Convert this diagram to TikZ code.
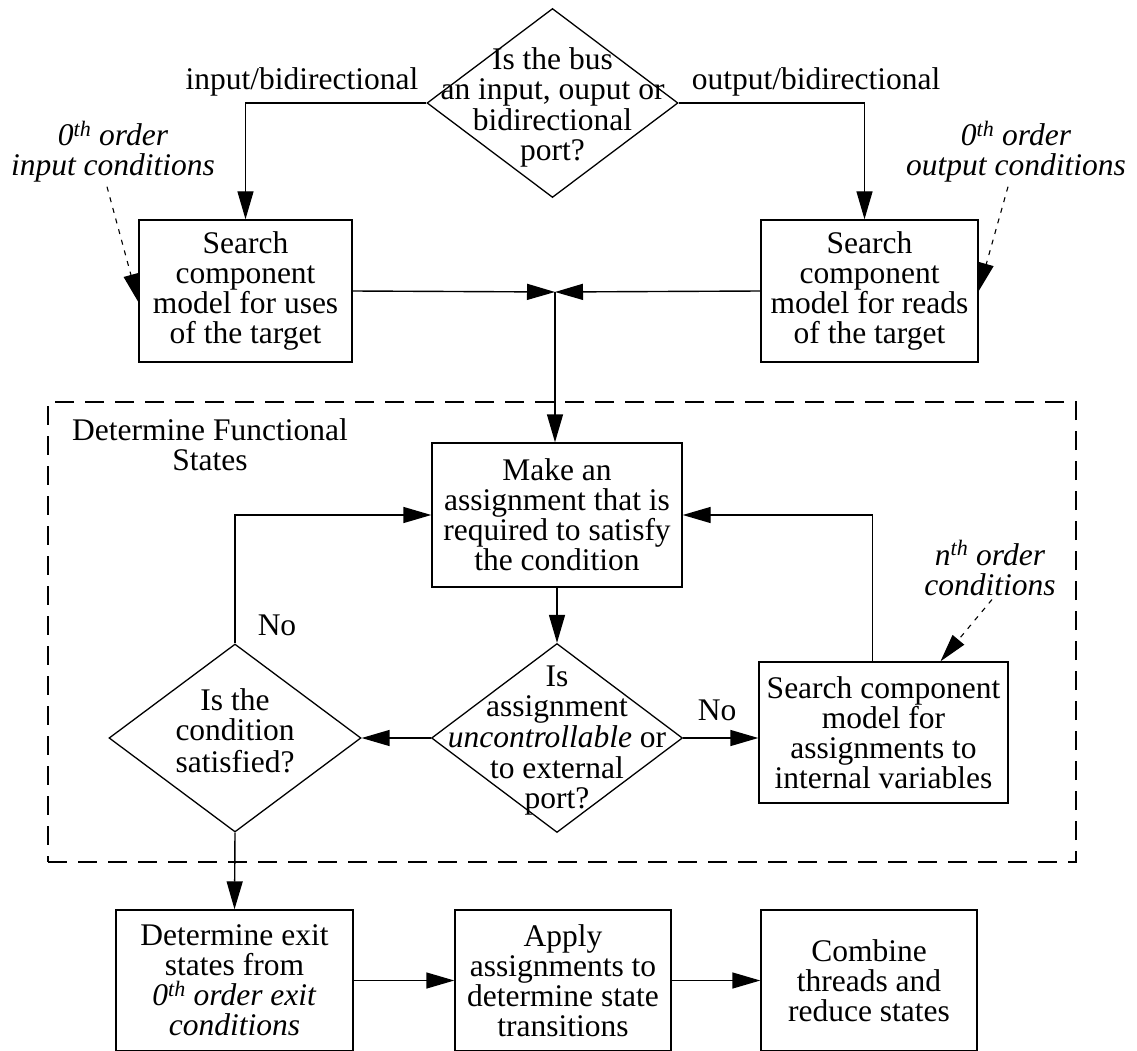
\documentclass[tikz,border=0pt]{standalone}
\usepackage{fontspec}
\setmainfont{Liberation Serif}
\usetikzlibrary{shapes.geometric,arrows.meta}
% text set inside a diamond without enlarging the shape
\newcommand{\dtext}[2][0pt]{\raisebox{\dimexpr-0.25em+#1\relax}[0pt][0pt]{\makebox[0pt]{\begin{tabular}{@{}c@{}}#2\end{tabular}}}}
\newcommand{\ord}[1]{\textit{#1\textsuperscript{th}}}
\begin{document}
\begin{tikzpicture}[x=1pt,y=-1pt,
  every node/.style={font=\fontsize{31.5}{30}\selectfont},
  boxnode/.style={draw, line width=1.4pt, inner sep=0pt, align=center},
  dia/.style={draw, diamond, line width=1.3pt, inner sep=0pt},
  lbl/.style={inner sep=0pt, align=center},
  arr/.style={line width=1.4pt, -{Triangle[length=28pt,width=16pt]}},
  dotarr/.style={line width=1.1pt, dash pattern=on 5pt off 6pt, -{Triangle[length=28pt,width=15pt]}},
  frame/.style={draw, line width=1.4pt, dash pattern=on 19pt off 11pt, inner sep=0pt},
]
\useasboundingbox (0,0) rectangle (1137,1051);

% dashed group frame
\node[frame, minimum width=1028pt, minimum height=460pt] (grp) at (562,632) {};
\node[lbl] (grptitle) at (210,445) {Determine Functional\\States};

% top decision and the two searches
\node[dia, minimum width=251pt, minimum height=189pt] (dq) at (552.5,103)
  {\dtext[-4pt]{Is the bus\\an input, ouput or\\bidirectional\\port?}};
\node[boxnode, minimum width=213pt, minimum height=142pt] (b1) at (245.5,291)
  {Search\\component\\model for uses\\of the target};
\node[boxnode, minimum width=217pt, minimum height=142pt] (b2) at (869.5,291)
  {Search\\component\\model for reads\\of the target};
\node[lbl] (lin) at (302,82) {input/bidirectional};
\node[lbl] (lout) at (816,82) {output/bidirectional};
\node[lbl] (cin) at (113,152) {\ord{0} \textit{order}\\\textit{input conditions}};
\node[lbl] (cout) at (1016,152) {\ord{0} \textit{order}\\\textit{output conditions}};
\coordinate (jn) at (555,292);

% inner loop
\node[boxnode, minimum width=250pt, minimum height=144pt] (b3) at (557,515)
  {Make an\\assignment that is\\required to satisfy\\the condition};
\node[dia, minimum width=252pt, minimum height=188pt] (ld) at (235,738)
  {\dtext[5pt]{Is the\\condition\\satisfied?}};
\node[dia, minimum width=251pt, minimum height=189pt] (md) at (557,738)
  {\dtext[-2pt]{Is\\assignment\\\textit{uncontrollable} or\\to external\\port?}};
\node[boxnode, minimum width=249pt, minimum height=141pt] (b4) at (883.5,732.5)
  {Search component\\model for\\assignments to\\internal variables};
\node[lbl] (cn) at (990,568) {\ord{n} \textit{order}\\\textit{conditions}};
\node[lbl] (no1) at (277,625) {No};
\node[lbl] (no2) at (717,710) {No};

% final stages
\node[boxnode, minimum width=237pt, minimum height=141pt] (b5) at (234.5,980.5)
  {Determine exit\\states from\\\ord{0} \textit{order exit}\\\textit{conditions}};
\node[boxnode, minimum width=216pt, minimum height=141pt] (b6) at (563,980.5)
  {Apply\\assignments to\\determine state\\transitions};
\node[boxnode, minimum width=216pt, minimum height=141pt] (b7) at (869,980.5)
  {Combine\\threads and\\reduce states};

% connectors
\draw[arr] (dq.west) -| (b1.north);
\draw[arr] (dq.east) -| ([xshift=-5pt]b2.north);
\draw[arr] (b1.east) -- (jn);
\draw[arr] (b2.west) -- (jn);
\draw[arr] (jn) -- (jn |- b3.north);
\draw[arr] (b3.south) -- (md.north);
\draw[arr] (md.west) -- (ld.east);
\draw[arr] (md.east) -- (md.east -| b4.west);
\draw[arr] ([xshift=-11pt]b4.north) |- (b3.east);
\draw[arr] (ld.north) |- (b3.west);
\draw[arr] (ld.south) -- (b5.north);
\draw[arr] (b5.east) -- (b6.west);
\draw[arr] (b6.east) -- (b7.west);

% annotation pointers
\draw[dotarr] ([xshift=-6pt,yshift=-4pt]cin.south) -- ([yshift=-11pt]b1.west);
\draw[dotarr] ([xshift=-8pt,yshift=-4pt]cout.south) -- (b2.east);
\draw[dotarr] ([xshift=2pt,yshift=-4pt]cn.south) -- ([xshift=57pt]b4.north);
\end{tikzpicture}
\end{document}
